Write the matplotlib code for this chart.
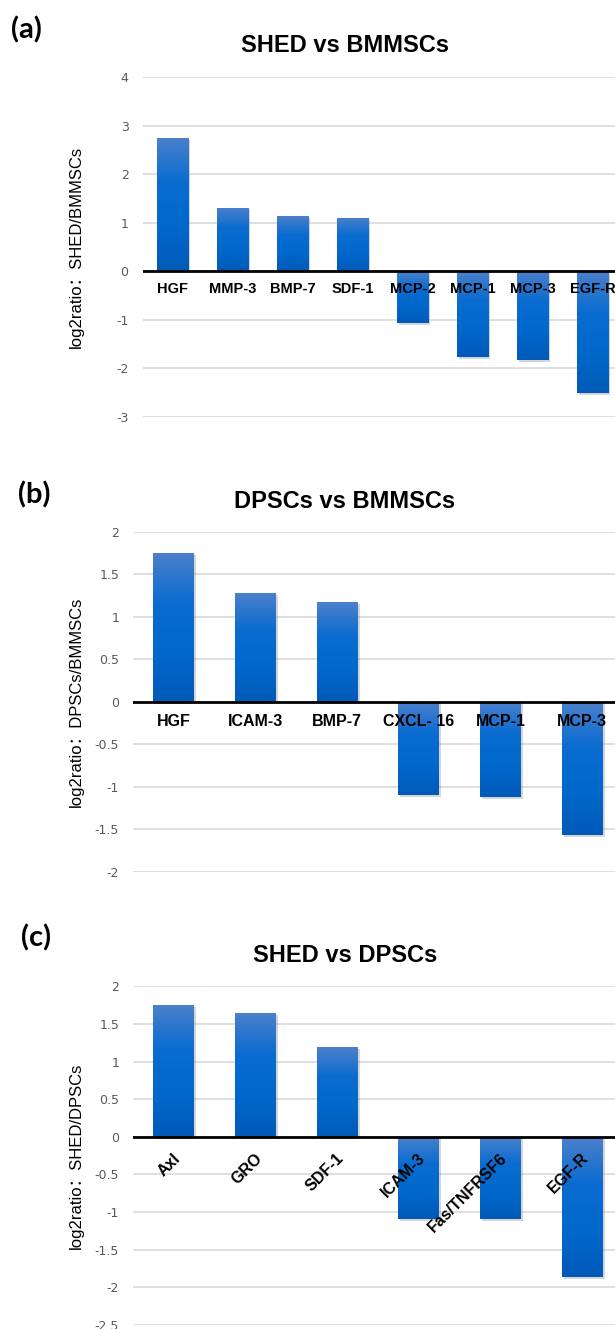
import numpy as np
import matplotlib.pyplot as plt
import matplotlib.transforms as mtransforms
from matplotlib.colors import LinearSegmentedColormap
import matplotlib.patheffects as pe

# data
a_labels = ['HGF', 'MMP-3', 'BMP-7', 'SDF-1', 'MCP-2', 'MCP-1', 'MCP-3', 'EGF-R']
a_vals = [2.75, 1.30, 1.13, 1.10, -1.06, -1.77, -1.83, -2.50]

b_labels = ['HGF', 'ICAM-3', 'BMP-7', 'CXCL- 16', 'MCP-1', 'MCP-3']
b_vals = [1.75, 1.28, 1.17, -1.09, -1.12, -1.56]

c_labels = ['Axl', 'GRO', 'SDF-1', 'ICAM-3', 'Fas/TNFRSF6', 'EGF-R']
c_vals = [1.75, 1.64, 1.19, -1.09, -1.09, -1.86]

W, H = 615, 1329
fig = plt.figure(figsize=(W / 100, H / 100), dpi=100)

grad = LinearSegmentedColormap.from_list('g', ['#005ab8', '#0068cc', '#0a6cd0', '#4a80cc'])
lab_font = ['Liberation Sans', 'DejaVu Sans']
ylab_font = ['Liberation Sans', 'Noto Sans CJK SC', 'DejaVu Sans']


def px_axes(left, right, top, bottom):
    return fig.add_axes([left / W, 1 - bottom / H, (right - left) / W, (bottom - top) / H])


def panel(ax, labels, vals, yticks, ylim, width, ylabel, lab_size, rotate=False, lab_dy=18):
    x = np.arange(len(labels))
    bars = ax.bar(x, vals, width=width, color='none', zorder=3,
                  path_effects=[pe.SimplePatchShadow(offset=(1.5, -1.5), shadow_rgbFace='#888888', alpha=0.35)])
    for b in bars:
        x0, y0 = b.get_x(), b.get_y()
        x1, y1 = x0 + b.get_width(), y0 + b.get_height()
        lo, hi = min(y0, y1), max(y0, y1)
        g = np.linspace(0, 1, 100).reshape(-1, 1)
        im = ax.imshow(g, cmap=grad, aspect='auto', extent=(x0, x1, lo, hi),
                       origin='lower', zorder=3.5)
        im.set_clip_path(b)
    ax.set_xlim(-0.5, len(labels) - 0.5)
    ax.set_ylim(*ylim)
    ax.set_yticks(yticks)
    ax.set_yticklabels([('%g' % t) for t in yticks])
    ax.tick_params(axis='y', length=0, pad=10, labelsize=9, labelcolor='#595959')
    ax.tick_params(axis='x', length=0, labelbottom=False)
    ax.grid(axis='y', color='#d9d9d9', linewidth=1.2, zorder=0)
    for s in ax.spines.values():
        s.set_visible(False)
    ax.axhline(0, color='black', linewidth=2, zorder=5)
    ax.set_ylabel(ylabel, fontsize=12, family=ylab_font, labelpad=10)

    trans = mtransforms.offset_copy(ax.transData, fig=fig, x=0 if not rotate else 4,
                                    y=-lab_dy, units='dots')
    for i, lab in enumerate(labels):
        if rotate:
            ax.text(i, 0, lab, transform=trans, ha='right', va='center', rotation=45,
                    rotation_mode='anchor', fontsize=lab_size, fontweight='bold',
                    family=lab_font, zorder=6)
        else:
            ax.text(i, 0, lab, transform=trans, ha='center', va='center',
                    fontsize=lab_size, fontweight='bold', family=lab_font, zorder=6)


ax1 = px_axes(142.5, 622.5, 77, 417)
panel(ax1, a_labels, a_vals, [-3, -2, -1, 0, 1, 2, 3, 4], (-3, 4), 0.52,
      'log2ratio\uff1aSHED/BMMSCs', 10.5)

ax2 = px_axes(133, 623, 531.7, 872)
panel(ax2, b_labels, b_vals, [-2, -1.5, -1, -0.5, 0, 0.5, 1, 1.5, 2], (-2, 2), 0.5,
      'log2ratio\uff1aDPSCs/BMMSCs', 11.5, lab_dy=20)

ax3 = px_axes(133, 623, 986.3, 1325)
panel(ax3, c_labels, c_vals, [-2.5, -2, -1.5, -1, -0.5, 0, 0.5, 1, 1.5, 2], (-2.5, 2), 0.5,
      'log2ratio\uff1aSHED/DPSCs', 11.5, rotate=True, lab_dy=19)

for ax in (ax1, ax2, ax3):
    ax.yaxis.set_label_coords(-(ax.get_position().x0 * W - 84) / (ax.get_position().width * W), 0.5)

# titles and panel letters
for txt, y in [('SHED vs BMMSCs', 46), ('DPSCs vs BMMSCs', 502), ('SHED vs DPSCs', 955)]:
    fig.text(345 / W, 1 - y / H, txt, ha='center', va='center', fontsize=17,
             fontweight='bold', family=lab_font)
for txt, x, y in [('(a)', 26, 30), ('(b)', 34, 495), ('(c)', 36, 938)]:
    fig.text(x / W, 1 - y / H, txt, ha='center', va='center', fontsize=21,
             fontweight='bold', family=['Lato', 'DejaVu Sans'])

fig.savefig('out.png', dpi=100)
